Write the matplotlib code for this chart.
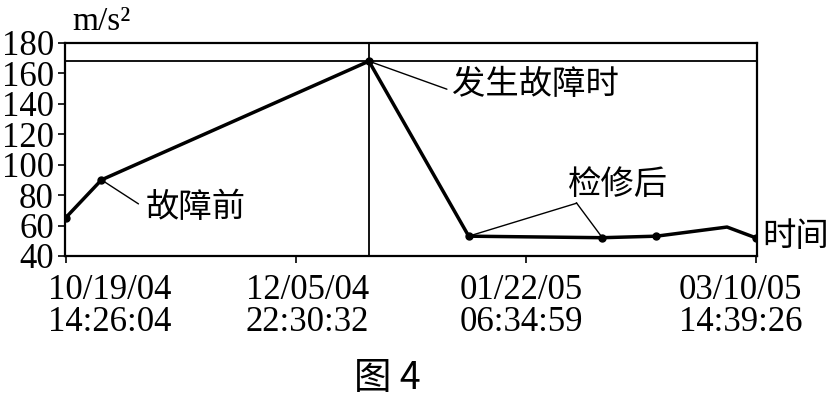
import matplotlib
matplotlib.use("Agg")
import matplotlib.pyplot as plt
import matplotlib.dates as mdates
from matplotlib.transforms import ScaledTranslation
from datetime import datetime

# data
times = ["2004-10-19 14:26", "2004-10-27 00:00", "2004-12-21 01:00", "2005-01-10 14:00",
         "2005-02-07 02:00", "2005-02-18 05:00", "2005-03-04 18:00", "2005-03-10 14:39"]
values = [65, 90, 168, 53, 52, 53, 59, 52]
tick_times = ["2004-10-19 14:26:04", "2004-12-05 22:30:32", "2005-01-22 06:34:59", "2005-03-10 14:39:26"]
yticks = [40, 60, 80, 100, 120, 140, 160, 180]

x = mdates.date2num([datetime.strptime(t, "%Y-%m-%d %H:%M") for t in times])
tx = mdates.date2num([datetime.strptime(t, "%Y-%m-%d %H:%M:%S") for t in tick_times])
tlabels = [datetime.strptime(t, "%Y-%m-%d %H:%M:%S").strftime("%m/%d/%y\n%H:%M:%S") for t in tick_times]

plt.rcParams['font.family'] = ['Liberation Serif', 'Noto Sans CJK SC']
cjk = ['Noto Sans CJK SC']

fig = plt.figure(figsize=(8.37, 4.05), dpi=100)
ax = fig.add_axes([0.0777, 0.368, 0.8267, 0.526])

peak = values.index(max(values))
ax.axhline(values[peak], color='black', lw=1.3)
ax.axvline(x[peak], color='black', lw=1.3)

ax.plot(x, values, color='black', lw=2.5, zorder=3)
ax.plot(x, values, 'o', color='black', ms=5, markevery=[0, 1, 2, 3, 4, 5, 7], zorder=4)

ax.set_xlim(tx[0] - 0.1, tx[-1] + 0.3)
ax.set_ylim(40, 180)
ax.set_xticks(tx)
ax.set_xticklabels(tlabels, fontsize=25, linespacing=0.95)
ax.set_yticks(yticks)
ax.set_yticklabels([str(v) for v in yticks], fontsize=25)
ax.tick_params(direction='out', length=5, width=1.2, pad=3)
ax.tick_params(axis='x', pad=8)
for s in ax.spines.values():
    s.set_linewidth(1.6)

# tick labels in the original are nudged sideways, the first one most
for lab, dx in zip(ax.get_xticklabels(), [44, 12, -4, -15]):
    lab.set_transform(lab.get_transform() + ScaledTranslation(dx / 100, 0, fig.dpi_scale_trans))

# leader lines and labels
def leader(i, dx, dy):
    ax.annotate("", xy=(x[i], values[i]), xytext=(dx, dy), textcoords='offset pixels',
                arrowprops=dict(arrowstyle='-', lw=1.0, color='black', shrinkA=0, shrinkB=0))

leader(1, 37, -24)
ax.annotate("故障前", xy=(x[1], values[1]), xytext=(44, -28), textcoords='offset pixels',
            ha='left', va='center', fontsize=24, family=cjk)
leader(2, 78, -28)
ax.annotate("发生故障时", xy=(x[2], values[2]), xytext=(83, -23), textcoords='offset pixels',
            ha='left', va='center', fontsize=24, family=cjk)
leader(3, 108, 33)
leader(4, -26, 35)
ax.annotate("检修后", xy=(x[3], values[3]), xytext=(99, 52), textcoords='offset pixels',
            ha='left', va='center', fontsize=24, family=cjk)

ax.text(1.008, 0.09, "时间", transform=ax.transAxes, ha='left', va='center', fontsize=24, family=cjk)
fig.text(72 / 837, 1 - 22 / 405, "m/s²", ha='left', va='center', fontsize=24)
fig.text(387 / 837, 1 - 378 / 405, "图 4", ha='center', va='center', fontsize=27,
         family=['Noto Sans CJK SC'])

fig.savefig("out.png", dpi=100)
